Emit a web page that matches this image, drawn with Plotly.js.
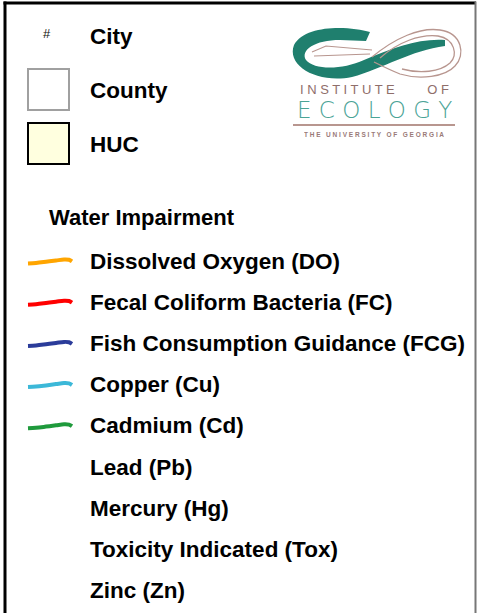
<!DOCTYPE html>
<html>
<head>
<meta charset="utf-8">
<script src="https://cdn.plot.ly/plotly-3.0.1.min.js"></script>
<style>html,body{margin:0;padding:0;background:#fff;}#chart{width:477px;height:613px;}</style>
</head>
<body>
<div id="chart"></div>
<script>
// ---- data ----
const featureLabels = ['City', 'County', 'HUC'];
const featureFills = [null, '#FFFFFF', '#FFFFDF'];
const featureBorders = [null, '#A0A0A0', '#000000'];
const impairTitle = 'Water Impairment';
const impairLabels = ['Dissolved Oxygen (DO)', 'Fecal Coliform Bacteria (FC)', 'Fish Consumption Guidance (FCG)',
  'Copper (Cu)', 'Cadmium (Cd)', 'Lead (Pb)', 'Mercury (Hg)', 'Toxicity Indicated (Tox)', 'Zinc (Zn)'];
const impairColors = ['#FFA500', '#FF0000', '#2B3C9A', '#3CB8D8', '#1F9A3C', null, null, null, null];
const logoLines = ['I N S T I T U T E         O F', 'E C O L O G Y', 'T H E   U N I V E R S I T Y   O F   G E O R G I A'];

// ---- layout constants ----
const W = 477, H = 613;
const labelX = 88;
const featureY = [36, 90, 144];
const rowY0 = 261, rowStep = 41.2;
const strokeDX = [0, 8, 18, 28, 36, 41, 44];
const strokeDY = [2.5, 2, 0.8, -0.5, -1.5, -1.2, 0.4];
const bold = {family: 'Arial, "Liberation Sans", sans-serif', size: 22.5, color: '#000', weight: 700};

const traces = [];
const annotations = [];
const shapes = [];

// frame
shapes.push({type: 'line', x0: 3.5, x1: 476, y0: 3, y1: 3, line: {color: '#000', width: 3}});
shapes.push({type: 'line', x0: 5, x1: 5, y0: 1.5, y1: H, line: {color: '#000', width: 3}});
shapes.push({type: 'line', x0: 475.5, x1: 475.5, y0: 1.5, y1: H, line: {color: '#777', width: 2}});

// base features
featureLabels.forEach((lab, i) => {
  annotations.push({x: labelX, y: featureY[i], xanchor: 'left', yanchor: 'middle', text: lab, showarrow: false, font: bold});
  if (featureFills[i]) {
    shapes.push({type: 'rect', x0: 28, x1: 69, y0: featureY[i] - 21, y1: featureY[i] + 20,
      fillcolor: featureFills[i], line: {color: featureBorders[i], width: 2}});
  } else {
    annotations.push({x: 47, y: featureY[i] - 3, xanchor: 'center', yanchor: 'middle', text: '#', showarrow: false,
      font: {family: 'Arial, "Liberation Sans", sans-serif', size: 13, color: '#111'}});
  }
});

// impairment section
annotations.push({x: 47, y: 217, xanchor: 'left', yanchor: 'middle', text: impairTitle, showarrow: false,
  font: Object.assign({}, bold, {size: 22})});
impairLabels.forEach((lab, i) => {
  const y = rowY0 + i * rowStep;
  annotations.push({x: labelX, y: y, xanchor: 'left', yanchor: 'middle', text: lab, showarrow: false, font: bold});
  if (impairColors[i]) {
    traces.push({type: 'scatter', mode: 'lines', hoverinfo: 'skip',
      x: strokeDX.map(d => 28 + d), y: strokeDY.map(d => y + d),
      line: {color: impairColors[i], width: 4, shape: 'spline'}});
  }
});

// logo
const teal = '#1F7F6E', brown = '#B8968F';
shapes.push({type: 'path', fillcolor: teal, line: {width: 0},
  path: 'M 445,40 C 420,38 392,48 364,60 C 342,70 314,70 306,60 C 300,50 315,40 340,40 L 366,41 L 370,32 ' +
        'C 350,26 305,24 294,45 C 286,66 318,84 352,77 C 382,69 412,50 445,46 Z'});
shapes.push({type: 'path', line: {color: brown, width: 1.3},
  path: 'M 372,57 C 395,38 420,27 440,30 C 462,33 466,55 455,66 C 445,77 420,80 400,74 C 390,70 382,66 374,62'});
shapes.push({type: 'path', line: {color: brown, width: 1.3},
  path: 'M 380,58 C 398,42 420,34 438,36 C 455,39 458,55 450,63 C 440,72 420,74 402,69'});
shapes.push({type: 'path', line: {color: brown, width: 1.2},
  path: 'M 312,52 L 326,46 L 372,50'});
shapes.push({type: 'path', line: {color: brown, width: 1.2},
  path: 'M 314,56 L 370,54'});
shapes.push({type: 'line', x0: 293, x1: 455, y0: 125, y1: 125, line: {color: brown, width: 2}});
annotations.push({x: 374, y: 89, xanchor: 'center', yanchor: 'middle', text: logoLines[0], showarrow: false,
  height: 12, font: {family: '"Liberation Sans", Arial, sans-serif', size: 13, color: '#8F6E6A'}});
annotations.push({x: 374, y: 110, xanchor: 'center', yanchor: 'middle', text: logoLines[1], showarrow: false,
  height: 20, font: {family: '"DejaVu Sans", sans-serif', size: 23, color: '#4AA396', weight: 300}});
annotations.push({x: 374, y: 134, xanchor: 'center', yanchor: 'middle', text: logoLines[2], showarrow: false,
  height: 7, font: {family: '"Liberation Sans", Arial, sans-serif', size: 6.5, color: '#9A7A78', weight: 700}});

const layout = {
  width: W, height: H, margin: {l: 0, r: 0, t: 0, b: 0},
  paper_bgcolor: '#fff', plot_bgcolor: '#fff', showlegend: false,
  xaxis: {range: [0, W], visible: false, fixedrange: true},
  yaxis: {range: [H, 0], visible: false, fixedrange: true},
  shapes: shapes, annotations: annotations
};
Plotly.newPlot('chart', traces, layout, {staticPlot: true, displayModeBar: false});
</script>
</body>
</html>
